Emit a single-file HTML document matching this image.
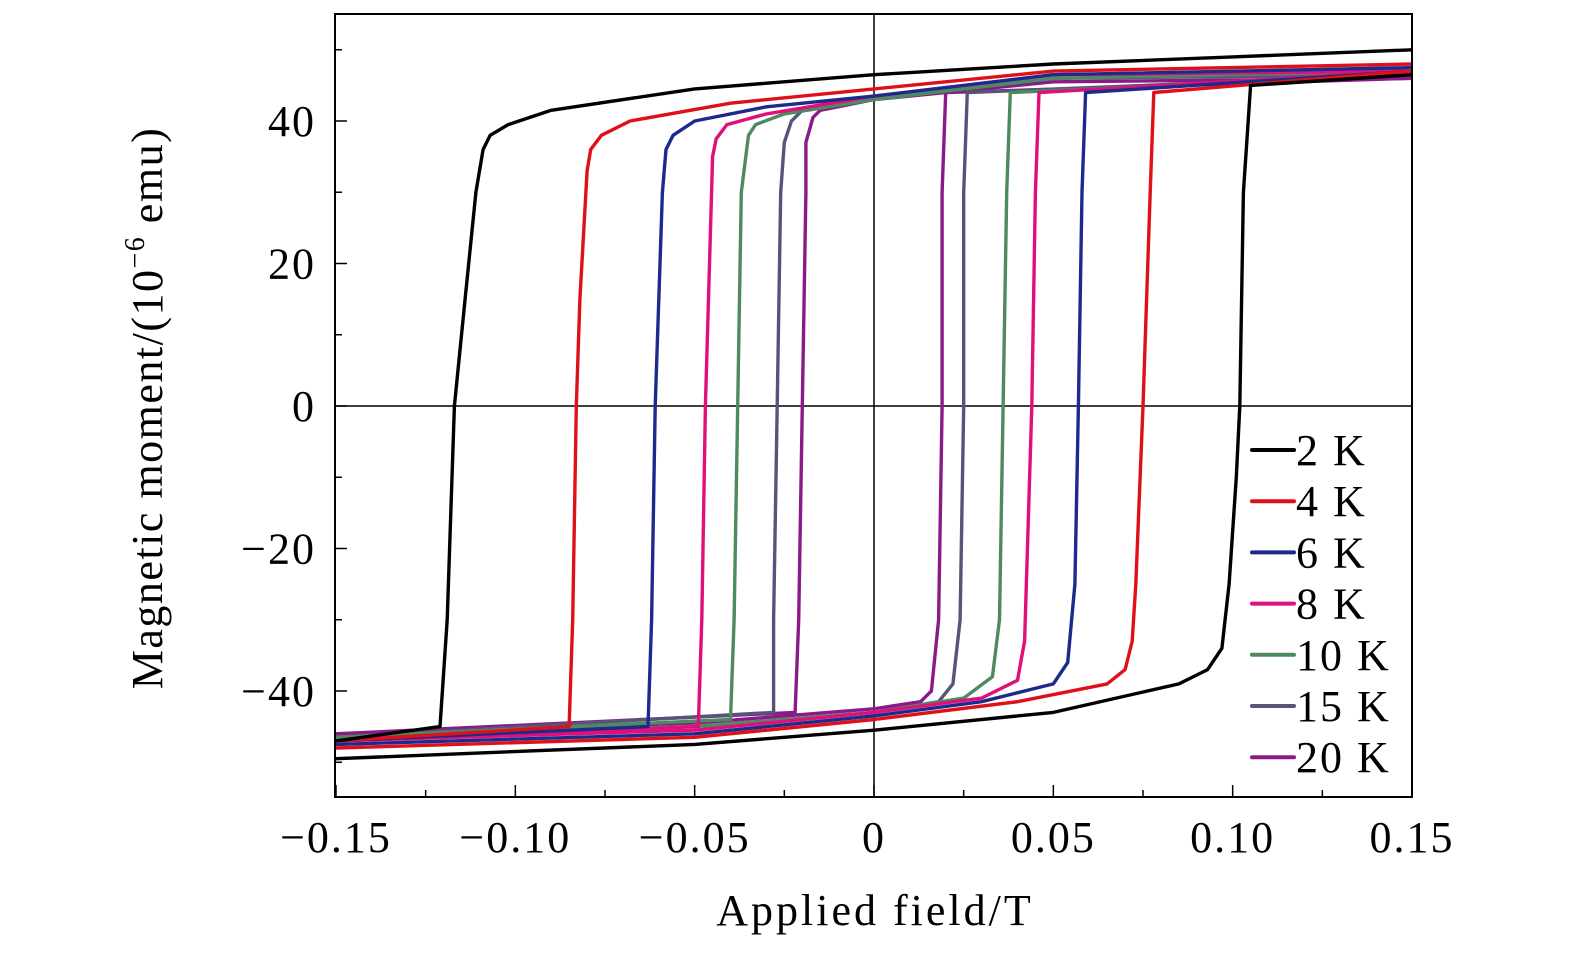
<!DOCTYPE html>
<html><head><meta charset="utf-8"><style>
body{margin:0;background:#fff}
svg{display:block;font-family:"Liberation Serif",serif}
</style></head><body>
<svg id="chart" width="1575" height="955" viewBox="0 0 1575 955" xmlns="http://www.w3.org/2000/svg">
<g id="plot"></g>
</svg>
<script>
const labels=["2 K","4 K","6 K","8 K","10 K","15 K","20 K"];
const colors=["#000000","#e0101a","#1c2a8c","#e0107a","#4e8a60","#55557a","#8a1a88"];
const up2=[[0.15,50],[0.1,49],[0.05,48],[0,46.5],[-0.05,44.5],[-0.09,41.5],[-0.102,39.5],[-0.107,38],[-0.109,36],[-0.111,30],[-0.114,15],[-0.117,0],[-0.119,-30],[-0.121,-45],[-0.15,-47]];
const up4=[[0.15,48],[0.05,47],[0,44.5],[-0.04,42.5],[-0.068,40],[-0.076,38],[-0.079,36],[-0.080,33],[-0.082,15],[-0.083,0],[-0.084,-30],[-0.085,-45],[-0.15,-47]];
const up6=[[0.15,47.5],[0.05,46.5],[0,43.5],[-0.03,42],[-0.05,40],[-0.056,38],[-0.058,36],[-0.059,30],[-0.061,0],[-0.062,-30],[-0.063,-45],[-0.15,-47]];
const up8=[[0.15,47],[0.05,46.5],[0,43.5],[-0.03,41],[-0.041,39.5],[-0.044,37.5],[-0.045,35],[-0.047,0],[-0.048,-30],[-0.049,-45],[-0.15,-47]];
const up10=[[0.15,47],[0.05,46],[0,43],[-0.025,41],[-0.033,39.5],[-0.035,38],[-0.037,30],[-0.038,0],[-0.039,-30],[-0.040,-44],[-0.15,-46.5]];
const up15=[[0.15,46.5],[0.05,46],[0,43],[-0.02,41.5],[-0.023,40],[-0.025,37],[-0.026,30],[-0.027,0],[-0.028,-30],[-0.028,-43],[-0.15,-46.5]];
const up20=[[0.15,46],[0.05,45.5],[0,43],[-0.015,41.5],[-0.017,40.5],[-0.019,37],[-0.019,30],[-0.020,0],[-0.021,-30],[-0.022,-43],[-0.15,-46]];
const lo2=[[-0.15,-49.5],[-0.05,-47.5],[0,-45.5],[0.05,-43],[0.085,-39],[0.093,-37],[0.097,-34],[0.099,-25],[0.101,-10],[0.102,0],[0.103,30],[0.105,45],[0.15,46.5]];
const lo4=[[-0.15,-48],[-0.05,-46.5],[0,-44],[0.04,-41.5],[0.065,-39],[0.070,-37],[0.072,-33],[0.073,-25],[0.075,0],[0.077,30],[0.078,44],[0.15,47]];
const lo6=[[-0.15,-47.5],[-0.05,-46],[0,-43.5],[0.03,-41.5],[0.05,-39],[0.054,-36],[0.056,-25],[0.057,0],[0.058,30],[0.059,44],[0.15,47]];
const lo8=[[-0.15,-47],[-0.05,-45.5],[0,-43],[0.03,-41],[0.04,-38.5],[0.042,-33],[0.044,0],[0.045,30],[0.046,44],[0.15,47]];
const lo10=[[-0.15,-46.5],[-0.05,-45],[0,-43],[0.025,-41],[0.033,-38],[0.035,-30],[0.036,0],[0.037,30],[0.038,44],[0.15,46.5]];
const lo15=[[-0.15,-46.5],[-0.05,-45],[0,-43],[0.018,-41.5],[0.022,-39],[0.024,-30],[0.025,0],[0.025,30],[0.026,44],[0.15,46.5]];
const lo20=[[-0.15,-46],[-0.05,-44.5],[0,-42.5],[0.013,-41.5],[0.016,-40],[0.018,-30],[0.019,0],[0.019,30],[0.020,44],[0.15,46]];
const uppers=[up2,up4,up6,up8,up10,up15,up20];
const lowers=[lo2,lo4,lo6,lo8,lo10,lo15,lo20];
const xTicks=[-0.15,-0.10,-0.05,0,0.05,0.10,0.15];
const xTickLabels=["\u22120.15","\u22120.10","\u22120.05","0","0.05","0.10","0.15"];
const yTicks=[-40,-20,0,20,40];
const yTickLabels=["\u221240","\u221220","0","20","40"];

const L=335,R=1412,T=14,B=797;
const X=v=>874+v*(R-874)/0.15;
const Y=v=>406-v*7.125;
const NS="http://www.w3.org/2000/svg";
const g=document.getElementById('plot');
function mk(tag,attrs,parent){const e=document.createElementNS(NS,tag);for(const k in attrs)e.setAttribute(k,attrs[k]);(parent||g).appendChild(e);return e;}

let e=mk('line',{x1:X(0),x2:X(0),y1:T,y2:B,stroke:'#000','stroke-width':1.5});


e=mk('line',{x1:L,x2:R,y1:Y(0),y2:Y(0),stroke:'#000','stroke-width':1.5});



for(let i=uppers.length-1;i>=0;i--){
  [uppers[i],lowers[i]].forEach((br,j)=>{
    const p=mk('polyline',{points:br.map(q=>X(q[0]).toFixed(1)+','+Y(q[1]).toFixed(1)).join(' '),fill:'none',stroke:colors[i],'stroke-width':3.4,'stroke-linejoin':'round'});
    
    
  });
}
e=mk('rect',{x:L,y:T,width:R-L,height:B-T,fill:'none',stroke:'#000','stroke-width':2});



for(let v=-0.15;v<=0.1501;v+=0.025){
  const major=Math.abs(Math.round(v/0.05)*0.05-v)<1e-6;
  const t=mk('line',{x1:X(v),x2:X(v),y1:B,y2:B-(major?12:7),stroke:'#000','stroke-width':1.5});
  
  
}
xTicks.forEach((v,i)=>{
  const t=mk('text',{x:X(v),y:852,'text-anchor':'middle','font-size':44,'letter-spacing':2});
  t.textContent=xTickLabels[i];
  
  
});
for(let v=-50;v<=50;v+=10){
  const major=v%20===0;
  const t=mk('line',{x1:L,x2:L+(major?12:7),y1:Y(v),y2:Y(v),stroke:'#000','stroke-width':1.5});
  
  
}
yTicks.forEach((v,i)=>{
  const t=mk('text',{x:316,y:Y(v)+15,'text-anchor':'end','font-size':44,'letter-spacing':2});
  t.textContent=yTickLabels[i];
  
  
});
e=mk('text',{x:875,y:925,'text-anchor':'middle','font-size':44,'letter-spacing':3});
e.textContent='Applied field/T';


e=mk('text',{x:0,y:0,'text-anchor':'middle','font-size':44,'letter-spacing':1.5,transform:'translate(162,408) rotate(-90)'});
e.innerHTML='Magnetic moment/(10<tspan font-size="28" dy="-18">\u22126</tspan><tspan dy="18"> emu)</tspan>';



const lg=mk('g',{});


labels.forEach((s,i)=>{
  const y=450+i*51.2;
  const l=mk('line',{x1:1252,x2:1294,y1:y,y2:y,stroke:colors[i],'stroke-width':4,'stroke-linecap':'round'},lg);
  
  
  const t=mk('text',{x:1296,y:y+15,'font-size':44,'letter-spacing':2},lg);
  t.textContent=s;
  
  
});
</script>
</body></html>
